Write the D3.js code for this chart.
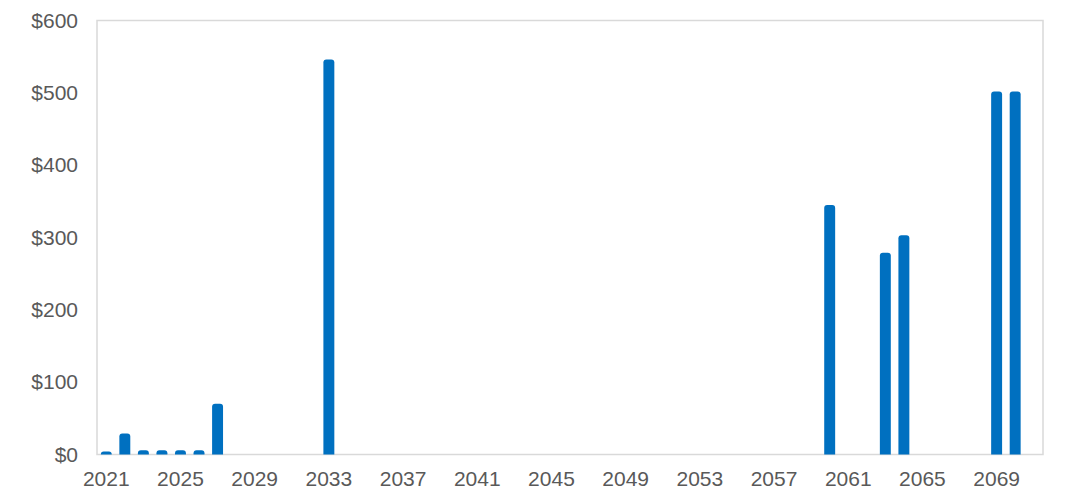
<!DOCTYPE html>
<html><head><meta charset="utf-8">
<script src="https://cdn.jsdelivr.net/npm/d3@7/dist/d3.min.js"></script>
<style>body{margin:0;background:#fff}svg{display:block}</style>
</head><body>
<svg id="c" width="1071" height="497"></svg>
<script>
const years = d3.range(2021, 2072);
const nonZeroYears = [2021, 2022, 2023, 2024, 2025, 2026, 2027, 2033, 2060, 2063, 2064, 2069, 2070];
const nonZeroValues = [4, 29, 6, 6, 6, 6, 70, 546, 345, 279, 303, 502, 502];
const yTicks = [0, 100, 200, 300, 400, 500, 600];
const xTickYears = [2021, 2025, 2029, 2033, 2037, 2041, 2045, 2049, 2053, 2057, 2061, 2065, 2069];

const valueByYear = new Map(nonZeroYears.map((y, i) => [y, nonZeroValues[i]]));
const data = years.map(y => ({year: y, value: valueByYear.get(y) || 0}));

const svg = d3.select("#c");
const m = {left: 97, right: 1043, top: 20.5, bottom: 454.5};
const x = d3.scaleBand().domain(years).range([m.left, m.right]).paddingInner(0.41).paddingOuter(0.205);
const y = d3.scaleLinear().domain([0, 600]).range([m.bottom, m.top]);

// plot border
svg.append("rect").attr("x", m.left).attr("y", m.top)
  .attr("width", m.right - m.left).attr("height", m.bottom - m.top)
  .attr("fill", "none").attr("stroke", "#d9d9d9").attr("stroke-width", 1.5);

// bars with rounded tops
const r = 3;
svg.append("g").selectAll("path").data(data.filter(d => d.value > 0)).join("path")
  .attr("fill", "#0070c0")
  .attr("d", d => {
    const x0 = x(d.year), w = x.bandwidth(), y0 = y(d.value), yb = y(0);
    const rr = Math.min(r, (yb - y0), w / 2);
    return `M${x0},${yb}V${y0 + rr}Q${x0},${y0} ${x0 + rr},${y0}H${x0 + w - rr}Q${x0 + w},${y0} ${x0 + w},${y0 + rr}V${yb}Z`;
  });

const font = "'Liberation Sans', Arial, sans-serif";
// y axis
const yAxis = d3.axisLeft(y).tickValues(yTicks).tickSize(0).tickPadding(19).tickFormat(d => "$" + d);
const gy = svg.append("g").attr("transform", `translate(${m.left},0)`).call(yAxis);
gy.select(".domain").remove();
gy.selectAll("text").attr("fill", "#595959").style("font-family", font).style("font-size", "21px");

// x axis
const xAxis = d3.axisBottom(x).tickValues(xTickYears).tickSize(0).tickPadding(17);
const gx = svg.append("g").attr("transform", `translate(0,${m.bottom})`).call(xAxis);
gx.select(".domain").remove();
gx.selectAll("text").attr("fill", "#595959").style("font-family", font).style("font-size", "21px");
</script>
</body></html>
